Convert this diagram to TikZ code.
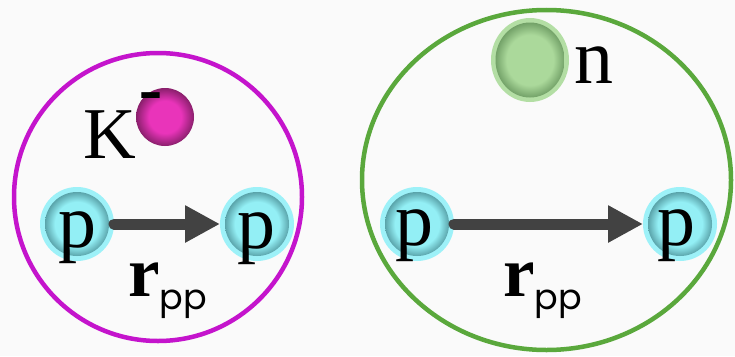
\documentclass[tikz,border=0pt]{standalone}
\usepackage{fontspec}
\setmainfont{Liberation Serif}
\newfontfamily\ppfont{Poppins}
\newfontfamily\sansfnt{Liberation Sans}
\usetikzlibrary{arrows.meta,shapes.geometric}
\definecolor{bgc}{HTML}{FAFAFA}
\definecolor{magline}{HTML}{C414CC}
\definecolor{grnline}{HTML}{5AA83C}
\definecolor{ringcyan}{HTML}{9DF1F8}
\definecolor{cyanin}{HTML}{93EFF5}
\definecolor{cyanout}{HTML}{3E7F86}
\definecolor{magin}{HTML}{E934BA}
\definecolor{magout}{HTML}{8A1F6C}
\definecolor{ringgrn}{HTML}{B3DEA4}
\definecolor{grnin}{HTML}{ABD99B}
\definecolor{grnout}{HTML}{5E8D55}
\definecolor{arrc}{HTML}{424242}
\pgfdeclareradialshading{cyanball}{\pgfpoint{0bp}{0bp}}{color(0bp)=(cyanin); color(15bp)=(cyanin); color(25bp)=(cyanout); color(50bp)=(cyanout)}
\pgfdeclareradialshading{magball}{\pgfpoint{0bp}{0bp}}{color(0bp)=(magin); color(14bp)=(magin); color(25bp)=(magout); color(50bp)=(magout)}
\pgfdeclareradialshading{grnball}{\pgfpoint{0bp}{0bp}}{color(0bp)=(grnin); color(15bp)=(grnin); color(25bp)=(grnout); color(50bp)=(grnout)}
\tikzset{
  protonball/.style={circle, inner sep=0pt, outer sep=0pt, minimum size=74pt, fill=ringcyan,
    path picture={\shade[shading=cyanball] (path picture bounding box.center) circle[radius=32pt];}},
  neutronball/.style={ellipse, inner sep=0pt, outer sep=0pt, minimum width=78pt, minimum height=84pt, fill=ringgrn,
    path picture={\shade[shading=grnball] (path picture bounding box.center) ellipse[x radius=34.5pt, y radius=37.5pt];}},
  kaonball/.style={circle, inner sep=0pt, outer sep=0pt, minimum size=58pt, shading=magball},
  ptext/.style={anchor=base, inner sep=0pt, font=\fontsize{76}{76}\selectfont},
  rlabel/.style={anchor=base west, inner sep=0pt, font=\fontsize{71}{71}\selectfont\bfseries},
  vecarrow/.style={draw=arrc, line width=11pt, line cap=round, -{Triangle[length=35pt,width=35pt]}},
}
\newcommand{\subpp}{\raisebox{-13pt}{\ppfont\mdseries\fontsize{35}{35}\selectfont pp}}
\begin{document}
\begin{tikzpicture}[x=1pt,y=-1pt]
\useasboundingbox (0,0) rectangle (735,356);
\fill[bgc] (0,0) rectangle (735,356);
% containers
\node[circle, draw=magline, line width=4.5pt, inner sep=0pt, minimum size=288pt] (nucA) at (158,197) {};
\node[ellipse, draw=grnline, line width=4.5pt, inner sep=0pt, minimum width=369pt, minimum height=340pt] (nucB) at (546.5,180) {};
% left system
\node[kaonball] (kaon) at (165,117) {};
\node[anchor=base, inner sep=0pt, font=\fontsize{73}{73}\selectfont] (ktext) at (110,158) {K};
\node[anchor=base, inner sep=0pt, font=\sansfnt\fontsize{75}{75}\selectfont] (kminus) at (151,115) {-};
\node[protonball] (pA1) at (77,224) {};
\node[protonball] (pA2) at (257,224) {};
\draw[vecarrow] (pA1.east) -- (pA2.west);
\node[ptext] (tA1) at (77,247) {p};
\node[ptext] (tA2) at (256,248) {p};
\node[rlabel] (rA) at (128,296) {r\subpp};
% right system
\node[neutronball] (neut) at (530,60) {};
\node[anchor=base, inner sep=0pt, font=\fontsize{78}{78}\selectfont] (ntext) at (593.5,83) {n};
\node[protonball] (pB1) at (417,224) {};
\node[protonball] (pB2) at (680,224) {};
\draw[vecarrow] (pB1.east) -- (pB2.west);
\node[ptext] (tB1) at (414,245) {p};
\node[ptext] (tB2) at (676,245) {p};
\node[rlabel] (rB) at (503,296) {r\subpp};
\end{tikzpicture}
\end{document}
